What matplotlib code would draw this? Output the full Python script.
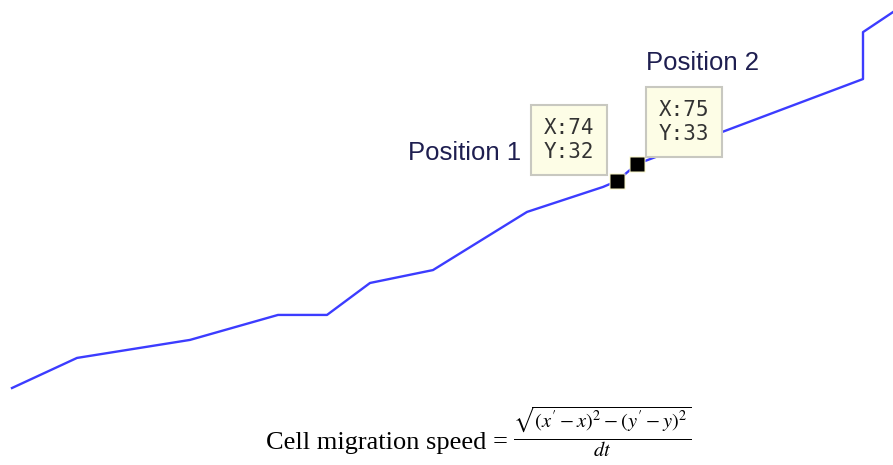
import matplotlib.pyplot as plt

# cell track (x, y positions)
track_x = [43.75, 47.0, 52.65, 57.05, 59.5, 61.65, 64.8, 69.5, 73.3, 74, 75, 86.3, 86.3, 87.8]
track_y = [19.82, 21.59, 22.65, 24.12, 24.12, 26.0, 26.76, 30.18, 31.65, 32, 33, 38.0, 40.76, 41.94]

# the two selected positions
pos_x = [74, 75]
pos_y = [32, 33]
pos_names = ['Position 1', 'Position 2']

fig = plt.figure(figsize=(8.93, 4.65), dpi=100)
ax = fig.add_axes([0, 0, 1, 1])
ax.set_xlim(43.15, 87.8)
ax.set_ylim(15.29, 42.65)
ax.axis('off')

ax.plot(track_x, track_y, color='#3c3cff', lw=1.7, zorder=2)

# data markers with a pale halo
ax.plot(pos_x, pos_y, 's', ms=12, color='#fbf8c8', mec='none', zorder=3)
ax.plot(pos_x, pos_y, 's', ms=9.5, color='black', mec='none', zorder=4)

# data tips
tip_offsets = [(-48, 41), (47, 42)]
label_offsets = [(-152, 28), (65, 101)]
for i in range(len(pos_x)):
    ax.annotate('X:%d\nY:%d' % (pos_x[i], pos_y[i]), xy=(pos_x[i], pos_y[i]),
                xytext=tip_offsets[i], textcoords='offset pixels',
                ha='center', va='center', fontsize=15, family='DejaVu Sans Mono',
                color='#333333', linespacing=1.25, zorder=5,
                bbox=dict(boxstyle='square,pad=0.62', fc='#fdfde6', ec='#c8c8c0', lw=1.5))
    ax.annotate(pos_names[i], xy=(pos_x[i], pos_y[i]),
                xytext=label_offsets[i], textcoords='offset pixels',
                ha='center', va='center', fontsize=18.5, family='Liberation Sans',
                color='#1e1e50')

# formula underneath
fig.text(0.569, 0.034, 'Cell migration speed =', ha='right', va='baseline',
         fontsize=19, family='Liberation Serif', color='black')
plt.rcParams['mathtext.fontset'] = 'stix'
fig.text(0.575, 0.072, r"$\frac{\sqrt{(x'-x)^2-(y'-y)^2}}{dt}$", ha='left', va='center',
         fontsize=21, color='black')

plt.savefig('out.png', dpi=100)
